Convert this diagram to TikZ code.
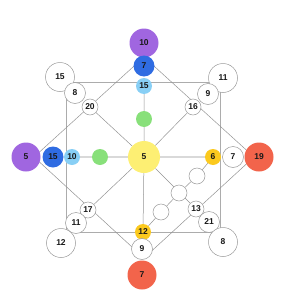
\documentclass[tikz,border=0pt]{standalone}
\usepackage{fontspec}
\setsansfont{Liberation Sans}
\usepackage{tikz}
\usetikzlibrary{backgrounds}

\definecolor{cpurple}{HTML}{A066E0}
\definecolor{cblue}{HTML}{2F6CE2}
\definecolor{clight}{HTML}{88CFF5}
\definecolor{cgreen}{HTML}{88E07A}
\definecolor{cyellow}{HTML}{FDEF73}
\definecolor{cgold}{HTML}{FBC91E}
\definecolor{cred}{HTML}{F2644B}

\begin{document}
\begin{tikzpicture}[
  x=1pt, y=-1pt,
  dot/.style={circle, inner sep=0pt, font=\sffamily\bfseries\fontsize{8.5}{10}\selectfont, text=black!90},
  big/.style={dot, minimum size=29pt},
  mid/.style={dot, minimum size=21pt},
  small/.style={dot, minimum size=16pt},
  open/.style={draw=gray!80, fill=white, line width=0.5pt},
  edge/.style={draw=gray!85, line width=0.5pt},
  frame/.style={draw=gray!65, line width=0.8pt},
  spoke/.style={draw=gray!30, line width=1.2pt}
]
\useasboundingbox (0,0) rectangle (300,300);

% centre
\node[dot, minimum size=32pt, fill=cyellow] (c) at (144,157) {5};

% top arm
\node[big, fill=cpurple] (t1) at (144,43) {10};
\node[mid, fill=cblue] (t2) at (144,66) {7};
\node[small, fill=clight] (t3) at (144,86) {15};
\node[small, fill=cgreen] (t4) at (144,119) {};

% left arm
\node[big, fill=cpurple] (l1) at (26,157) {5};
\node[mid, fill=cblue] (l2) at (53,157) {15};
\node[small, fill=clight] (l3) at (72,157) {10};
\node[small, fill=cgreen] (l4) at (100,157) {};

% right arm
\node[small, fill=cgold] (r1) at (213,157) {6};
\node[mid, open] (r2) at (233,157) {7};
\node[big, fill=cred] (r3) at (259,157) {19};

% bottom arm
\node[small, fill=cgold] (b1) at (143,232) {12};
\node[mid, open] (b2) at (142,249) {9};
\node[big, fill=cred] (b3) at (142,275) {7};

% corners
\node[big, open] (tl1) at (60,77) {15};
\node[mid, open] (tl2) at (75,93) {8};
\node[small, open] (tl3) at (90,107) {20};
\node[big, open] (tr1) at (223,78) {11};
\node[mid, open] (tr2) at (208,94) {9};
\node[small, open] (tr3) at (193,107) {16};
\node[small, open] (bl3) at (88,210) {17};
\node[mid, open] (bl2) at (76,223) {11};
\node[big, open] (bl1) at (61,243) {12};
\node[small, open] (br3) at (196,209) {13};
\node[mid, open] (br2) at (209,222) {21};
\node[big, open] (br1) at (223,242) {8};

% chain between the gold dots
\node[small, open] (e1) at (161,212) {};
\node[small, open] (e2) at (179,193) {};
\node[small, open] (e3) at (197,176) {};

\coordinate (dt) at (144,57);
\coordinate (dl) at (34,157);
\coordinate (db) at (144,258);
\coordinate (dr) at (254,157);

\begin{scope}[on background layer]
  \draw[frame] (66,82) rectangle (220,232);
  \draw[spoke] (c) -- (l3) (c) -- (r1);
  \draw[edge] (c) -- (t3) (c) -- (b1);
  \draw[edge] (dt) -- (dr) -- (db) -- (dl) -- cycle;
  \draw[edge] (c) -- (tl3) (c) -- (tr3) (c) -- (bl3) (c) -- (br3);
  \draw[edge] (b1) -- (e1) -- (e2) -- (e3) -- (r1);
\end{scope}
\end{tikzpicture}
\end{document}
